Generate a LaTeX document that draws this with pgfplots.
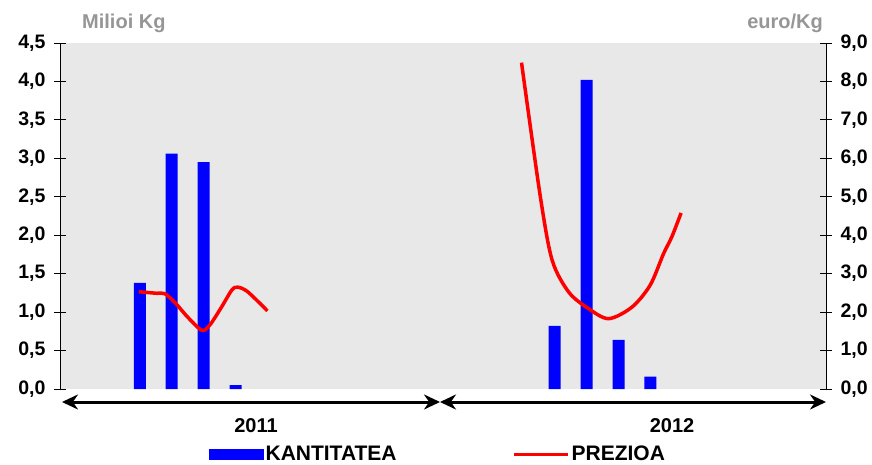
\documentclass[border=0pt]{standalone}
\usepackage{fontspec}
\setmainfont{Liberation Sans}
\usepackage{pgfplots}
\pgfplotsset{compat=1.18}
\usetikzlibrary{arrows.meta}

\definecolor{bgGrey}{RGB}{232,232,232}
\definecolor{titleGrey}{RGB}{150,150,150}
\definecolor{barBlue}{RGB}{0,0,255}

\begin{document}
\begin{tikzpicture}[x=1pt,y=1pt]
\path[use as bounding box] (0,0) rectangle (872,464);

\pgfplotsset{
  common/.style={
    at={(60pt,75pt)}, anchor=south west, scale only axis,
    width=766pt, height=346pt,
    xmin=0, xmax=24, axis x line=none,
    ymin=0,
    tick align=center, major tick length=12pt,
    every tick/.style={black, line width=0.8pt},
    axis line style={black, line width=0.8pt},
    tick label style={font=\bfseries\fontsize{19.5}{22}\selectfont},
    /pgf/number format/.cd, use comma, fixed, fixed zerofill, precision=1, assume math mode=true,
  }
}

% kantitatea (milioi kg), left axis
\begin{axis}[common, ymax=4.5, ytick={0,0.5,1,1.5,2,2.5,3,3.5,4,4.5},
  axis y line*=left, axis background/.style={fill=bgGrey},
  yticklabel style={xshift=-5pt}]
\addplot[ybar, bar width=12pt, fill=barBlue, draw=none] coordinates {
  (2.5,1.38) (3.5,3.06) (4.5,2.95) (5.5,0.05)
  (15.5,0.82) (16.5,4.02) (17.5,0.64) (18.5,0.16)
};
\end{axis}

% prezioa (euro/kg), right axis
\begin{axis}[common, ymax=9, ytick={0,1,2,3,4,5,6,7,8,9},
  axis y line*=right, yticklabel style={xshift=5pt},
  legend style={at={(0.1945,-0.188)}, anchor=west, draw=none, fill=none,
    inner sep=0pt, legend columns=2,
    font=\bfseries\fontsize{21}{23}\selectfont,
    /tikz/every even column/.append style={column sep=114pt}}]
\addlegendimage{legend image code/.code={\fill[barBlue] (0pt,-5pt) rectangle (54pt,5pt);}}
\addlegendentry{KANTITATEA}
\addplot[red, line width=3.5pt, smooth,
  legend image code/.code={\draw[red, line width=3pt] (0pt,0pt) -- (54pt,0pt);}] coordinates {
  (2.47,2.53) (3.03,2.49) (3.28,2.48) (3.59,2.26) (4.0,1.87) (4.44,1.53)
  (4.69,1.66) (5.06,2.13) (5.38,2.57) (5.56,2.65) (5.88,2.53) (6.5,2.03)
};
\addlegendentry{PREZIOA}
\addplot[red, line width=3.5pt, smooth, forget plot] coordinates {
  (14.46,8.49) (15.05,5.0) (15.42,3.35) (15.94,2.52) (16.56,2.09)
  (17.19,1.83) (17.92,2.13) (18.49,2.70) (18.91,3.52) (19.17,3.96) (19.46,4.58)
};
\end{axis}

% axis titles
\node[anchor=base west, inner sep=0pt, text=titleGrey, font=\bfseries\fontsize{20}{22}\selectfont] at (82,435) {Milioi Kg};
\node[anchor=base east, inner sep=0pt, text=titleGrey, font=\bfseries\fontsize{20}{22}\selectfont] at (823,435) {euro/Kg};

% year arrows
\draw[line width=3pt, {Stealth[length=16pt,width=15pt]}-{Stealth[length=16pt,width=15pt]}] (62,62) -- (440,62);
\draw[line width=3pt, {Stealth[length=16pt,width=15pt]}-{Stealth[length=16pt,width=15pt]}] (440,62) -- (826,62);
\node[anchor=base, font=\bfseries\fontsize{20}{22}\selectfont] at (256,32) {2011};
\node[anchor=base, font=\bfseries\fontsize{20}{22}\selectfont] at (672,32) {2012};
\end{tikzpicture}
\end{document}
